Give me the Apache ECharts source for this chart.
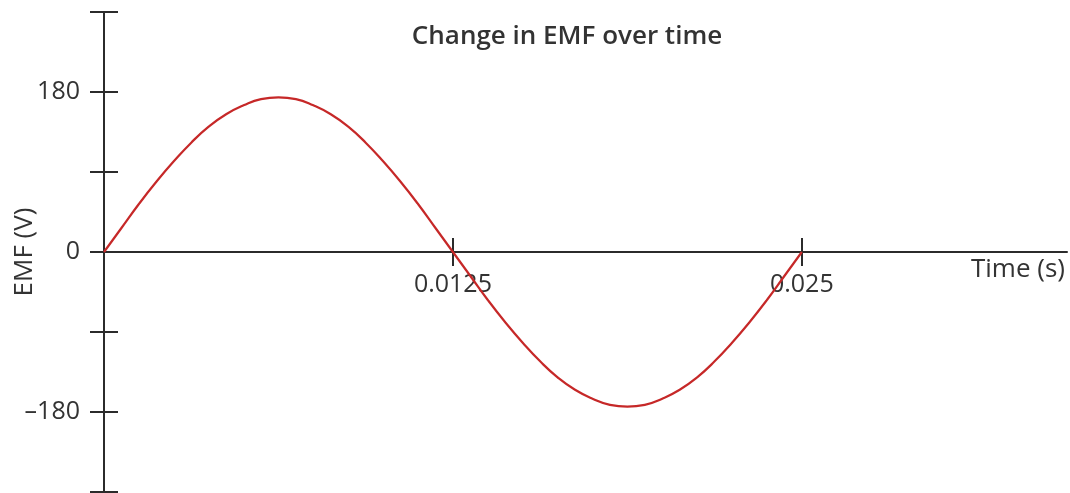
<!DOCTYPE html>
<html>
<head>
<meta charset="utf-8">
<title>Change in EMF over time</title>
<script src="https://cdn.jsdelivr.net/npm/echarts@6/dist/echarts.min.js"></script>
<style>
    html, body { margin: 0; padding: 0; background: #fff; }
    #main { width: 1070px; height: 493px; }
</style>
</head>
<body>
<div id="main"></div>
<script>
// time (s) and EMF (V)
var timeValues = [0, 0.000625, 0.00125, 0.001875, 0.0025, 0.003125, 0.00375, 0.004375, 0.005, 0.005625, 0.00625,
    0.006875, 0.0075, 0.008125, 0.00875, 0.009375, 0.01, 0.010625, 0.01125, 0.011875, 0.0125,
    0.013125, 0.01375, 0.014375, 0.015, 0.015625, 0.01625, 0.016875, 0.0175, 0.018125, 0.01875,
    0.019375, 0.02, 0.020625, 0.02125, 0.021875, 0.0225, 0.023125, 0.02375, 0.024375, 0.025];
var emfValues = [0, 27, 54, 79, 102, 123, 141, 155, 165, 172, 174,
    172, 165, 155, 141, 123, 102, 79, 54, 27, 0,
    -27, -54, -79, -102, -123, -141, -155, -165, -172, -174,
    -172, -165, -155, -141, -123, -102, -79, -54, -27, 0];
var xTicks = [0.0125, 0.025];
var yTickLabels = [180, 0, -180];

var axisColor = '#2b2b2b';
var textColor = '#333333';
var fontName = 'Open Sans';

var points = [];
for (var i = 0; i < timeValues.length; i++) {
    points.push([timeValues[i], emfValues[i]]);
}

var myChart = echarts.init(document.getElementById('main'), null, { renderer: 'canvas' });

var option = {
    backgroundColor: '#ffffff',
    animation: false,
    textStyle: { fontFamily: fontName },
    grid: { left: 104, right: 3, top: 12, bottom: 1, containLabel: false, outerBoundsMode: 'none' },
    xAxis: [{
        type: 'value',
        min: 0,
        max: 0.0345,
        interval: 0.0125,
        position: 'bottom',
        offset: -240, // moves the axis up to EMF = 0
        axisLine: { onZero: false, lineStyle: { color: axisColor, width: 2 } },
        axisTick: {
            show: true,
            inside: false,
            length: 14,
            customValues: xTicks,
            lineStyle: { color: axisColor, width: 2 }
        },
        axisLabel: {
            show: true,
            margin: 20,
            customValues: xTicks,
            color: textColor,
            fontSize: 25,
            fontFamily: fontName,
            formatter: function (v) { return String(v); }
        },
        splitLine: { show: false }
    }, {
        // upper half of the crossing ticks
        type: 'value',
        min: 0,
        max: 0.0345,
        interval: 0.0125,
        position: 'bottom',
        offset: -240,
        axisLine: { show: false, onZero: false },
        axisTick: {
            show: true,
            inside: true,
            length: 14,
            customValues: xTicks,
            lineStyle: { color: axisColor, width: 2 }
        },
        axisLabel: { show: false },
        splitLine: { show: false }
    }],
    yAxis: [{
        type: 'value',
        min: -270,
        max: 270,
        interval: 90,
        axisLine: { show: true, onZero: false, lineStyle: { color: axisColor, width: 2 } },
        axisTick: { show: true, inside: false, length: 14, lineStyle: { color: axisColor, width: 2 } },
        axisLabel: {
            show: true,
            margin: 24,
            color: textColor,
            fontSize: 25,
            fontFamily: fontName,
            formatter: function (v) {
                if (yTickLabels.indexOf(v) < 0) return '';
                return v < 0 ? '\u2013' + Math.abs(v) : String(v);
            }
        },
        splitLine: { show: false }
    }, {
        // second copy so the ticks cross the axis on both sides
        type: 'value',
        position: 'left',
        min: -270,
        max: 270,
        interval: 90,
        axisLine: { show: false },
        axisTick: { show: true, inside: true, length: 14, lineStyle: { color: axisColor, width: 2 } },
        axisLabel: { show: false },
        splitLine: { show: false }
    }],
    graphic: [{
        type: 'text',
        x: 567,
        y: 37,
        style: { text: 'Change in EMF over time', fill: textColor, font: '600 26px "Open Sans"', textAlign: 'center', textVerticalAlign: 'middle' }
    }, {
        type: 'text',
        x: 1065,
        y: 270,
        style: { text: 'Time (s)', fill: textColor, font: '26px "Open Sans"', textAlign: 'right', textVerticalAlign: 'middle' }
    }, {
        type: 'text',
        x: 25,
        y: 252,
        rotation: Math.PI / 2,
        style: { text: 'EMF (V)', fill: textColor, font: '26px "Open Sans"', textAlign: 'center', textVerticalAlign: 'middle' }
    }],
    series: [{
        name: 'EMF',
        type: 'line',
        xAxisIndex: 0,
        yAxisIndex: 0,
        smooth: true,
        showSymbol: false,
        clip: false,
        lineStyle: { color: '#c62828', width: 2.2 },
        data: points
    }]
};

myChart.setOption(option);
</script>
</body>
</html>
